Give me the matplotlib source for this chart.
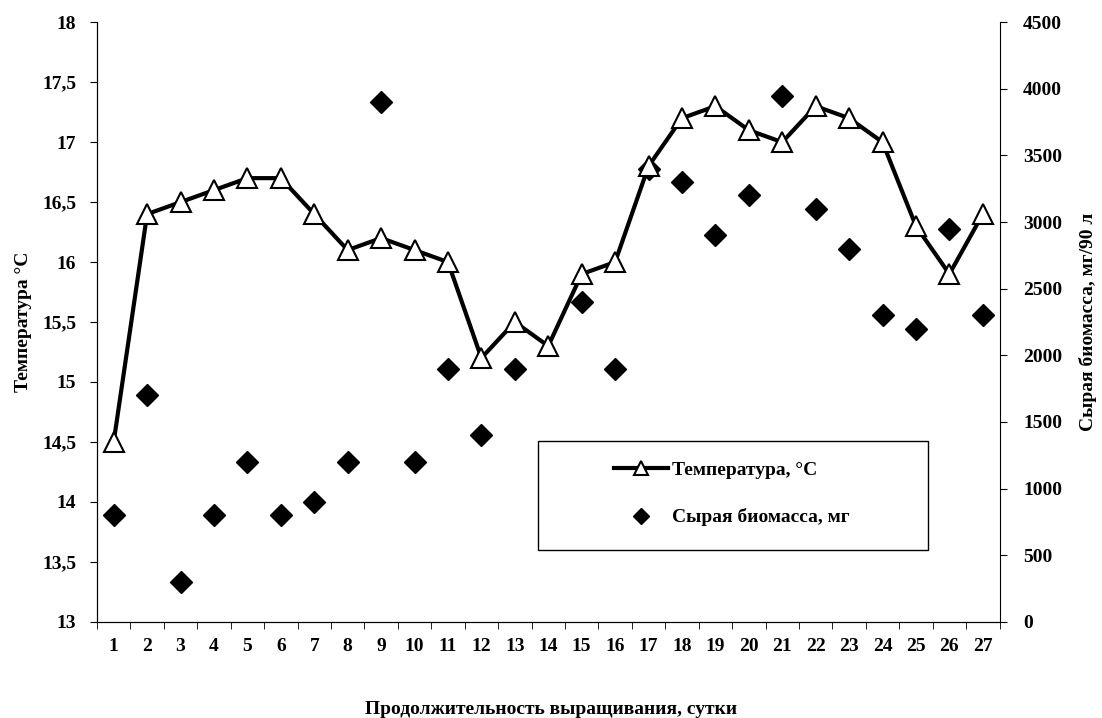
import matplotlib.pyplot as plt
import matplotlib.patches as mpatches
import numpy as np

plt.rcParams['font.family'] = ['Liberation Serif', 'DejaVu Serif']
plt.rcParams['font.weight'] = 'bold'

# Сутки выращивания
days = np.arange(1, 28)
# Температура, °C
temp = [14.5, 16.4, 16.5, 16.6, 16.7, 16.7, 16.4, 16.1, 16.2, 16.1, 16.0, 15.2, 15.5, 15.3,
        15.9, 16.0, 16.8, 17.2, 17.3, 17.1, 17.0, 17.3, 17.2, 17.0, 16.3, 15.9, 16.4]
# Сырая биомасса, мг (на 14-е сутки нет точки)
biomass = [800, 1700, 300, 800, 1200, 800, 900, 1200, 3900, 1200, 1900, 1400, 1900, np.nan,
           2400, 1900, 3400, 3300, 2900, 3200, 3950, 3100, 2800, 2300, 2200, 2950, 2300]

fs = 14

fig, ax = plt.subplots(figsize=(11.02, 7.18), dpi=100)
fig.subplots_adjust(left=0.088, right=0.907, top=0.969, bottom=0.134)
ax2 = ax.twinx()

l1, = ax.plot(days, temp, color='black', lw=3, marker='^', ms=14,
              mfc='white', mec='black', mew=1.5, zorder=3)
l2, = ax2.plot(days, biomass, ls='none', marker='D', ms=11, color='black')
ax.set_zorder(ax2.get_zorder() + 1)
ax.patch.set_visible(False)

ax.set_xlim(0.5, 27.5)
ax.set_ylim(13, 18)
ax.set_yticks(np.arange(13, 18.01, 0.5))
ax.set_yticklabels(['13', '13,5', '14', '14,5', '15', '15,5', '16', '16,5', '17', '17,5', '18'])
ax2.set_ylim(0, 4500)
ax2.set_yticks(np.arange(0, 4501, 500))

ax.set_xticks(days)
ax.set_xticks(np.arange(0.5, 27.6, 1), minor=True)
ax.tick_params(axis='x', which='major', length=0, pad=12, labelsize=fs)
ax.tick_params(axis='x', which='minor', length=5, direction='out')
ax.tick_params(axis='y', length=5, direction='out', labelsize=fs, pad=10)
ax2.tick_params(axis='y', length=5, direction='out', labelsize=fs, pad=12)

for a in (ax, ax2):
    a.spines['top'].set_visible(False)
ax.spines['right'].set_visible(False)

ax.set_ylabel('Температура °С', fontsize=fs, fontweight='bold', labelpad=7)
ax2.set_ylabel('Сырая биомасса, мг/90 л', fontsize=fs, fontweight='bold', labelpad=12)
fig.text(0.5, 0.006, 'Продолжительность выращивания, сутки', ha='center',
         fontsize=fs, fontweight='bold')

# рамка легенды
fig.patches.append(mpatches.Rectangle((0.4882, 0.234), 0.3539, 0.1518,
                                      transform=fig.transFigure, fill=True,
                                      facecolor='white', edgecolor='black', lw=1,
                                      zorder=5))
leg = fig.legend([l1, l2], ['Температура, °С', 'Сырая биомасса, мг'],
                 loc='upper left', bbox_to_anchor=(0.557, 0.357), frameon=False,
                 fontsize=fs, labelspacing=1.5, borderpad=0, borderaxespad=0,
                 handlelength=2.8, handletextpad=0.2, markerscale=0.7)
leg.set_zorder(6)

fig.savefig('out.png', dpi=100)
